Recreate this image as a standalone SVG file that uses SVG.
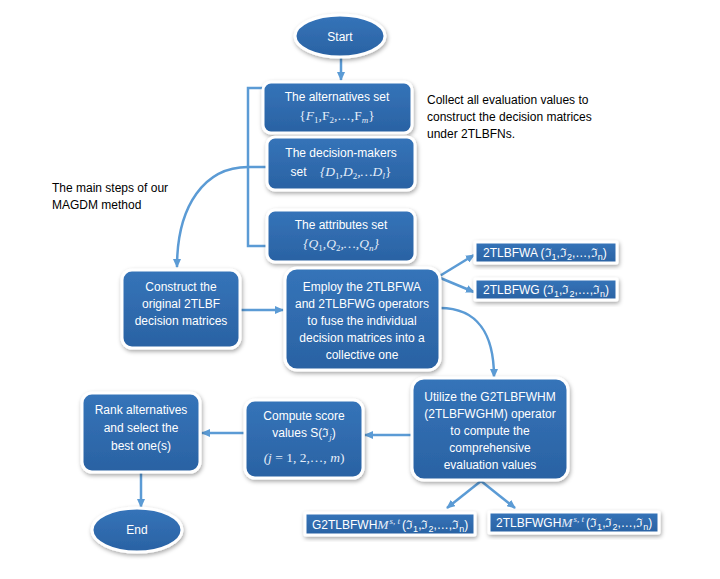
<svg xmlns="http://www.w3.org/2000/svg" width="720" height="579" viewBox="0 0 720 579">
<defs>
<linearGradient id="g" x1="0" y1="0" x2="0" y2="1">
<stop offset="0" stop-color="#3574b9"/>
<stop offset="1" stop-color="#2a62a3"/>
</linearGradient>
<filter id="sh" x="-15%" y="-15%" width="135%" height="145%">
<feDropShadow dx="1" dy="2" stdDeviation="2" flood-color="#000" flood-opacity="0.35"/>
</filter>
<marker id="ar" markerWidth="9" markerHeight="8" refX="8" refY="4" orient="auto" markerUnits="userSpaceOnUse">
<path d="M0,0 L9,4 L0,8 z" fill="#5b9bd5"/>
</marker>
</defs>
<style>
.box{fill:url(#g);stroke:#fff;stroke-width:3;filter:url(#sh)}
.t{font-family:"Liberation Sans",Arial,sans-serif;font-size:12px;fill:#fff;text-anchor:middle}
.s{font-family:"Liberation Sans",Arial,sans-serif;font-size:12px;fill:#fff}
.m{font-family:"Liberation Serif","DejaVu Serif",serif;font-size:13.5px;fill:#e4edf9}
.i{font-style:italic}
.sub{font-size:9px}
.c{fill:none;stroke:#5b9bd5;stroke-width:2.5}
.a{marker-end:url(#ar)}
.n{font-family:"Liberation Sans",Arial,sans-serif;font-size:12px;fill:#000}
</style>
<rect width="720" height="579" fill="#fff"/>

<g id="connectors">
<path class="c a" d="M341,58 L341,80"/>
<path class="c" d="M263,88 L248,88 L248,246 L267,246 M248,167 L267,167"/>
<path class="c a" d="M248,167 C205,167 177,205 177,267"/>
<path class="c a" d="M241,310 L283,310"/>
<path class="c a" d="M438,277 L474,255"/>
<path class="c a" d="M438,277 L474,292"/>
<path class="c a" d="M440,308 C478,308 494,335 494,377"/>
<path class="c a" d="M411,435 L365,435"/>
<path class="c a" d="M244,433 L202,433"/>
<path class="c a" d="M141,473 L141,507"/>
<path class="c a" d="M481,481 L447,508"/>
<path class="c a" d="M481,481 L515,508"/>
</g>

<g id="start">
<ellipse class="box" cx="340" cy="36" rx="45" ry="21"/>
<text class="t" x="340" y="41">Start</text>
</g>

<g id="alternatives">
<rect class="box" x="263" y="82" width="149" height="51" rx="8"/>
<text class="t" x="337" y="101">The alternatives set</text>
<text class="m" x="337" y="120" text-anchor="middle">{<tspan class="i">F</tspan><tspan class="sub" dy="3">1</tspan><tspan dy="-3">,F</tspan><tspan class="sub" dy="3">2</tspan><tspan dy="-3">,…,F</tspan><tspan class="sub i" dy="3">m</tspan><tspan dy="-3">}</tspan></text>
</g>

<g id="decision-makers">
<rect class="box" x="267" y="137" width="148" height="53" rx="8"/>
<text class="t" x="341" y="157">The decision-makers</text>
<text class="t" x="341" y="176">set <tspan class="m i" dx="10">{D</tspan><tspan class="m sub" dy="3">1</tspan><tspan class="m i" dy="-3">,D</tspan><tspan class="m sub" dy="3">2</tspan><tspan class="m i" dy="-3">,…D</tspan><tspan class="m sub i" dy="3">l</tspan><tspan class="m" dy="-3">}</tspan></text>
</g>

<g id="attributes">
<rect class="box" x="267" y="210" width="148" height="52" rx="8"/>
<text class="t" x="341" y="229">The attributes set</text>
<text class="m i" x="341" y="248" text-anchor="middle">{Q<tspan class="sub" dy="3" font-style="normal">1</tspan><tspan dy="-3">,Q</tspan><tspan class="sub" dy="3" font-style="normal">2</tspan><tspan dy="-3">,…,Q</tspan><tspan class="sub" dy="3">n</tspan><tspan dy="-3">}</tspan></text>
</g>

<g id="construct">
<rect class="box" x="122" y="270" width="118" height="78" rx="10"/>
<text class="t" x="181" y="291">Construct the</text>
<text class="t" x="181" y="308">original 2TLBF</text>
<text class="t" x="181" y="325">decision matrices</text>
</g>

<g id="employ">
<rect class="box" x="285" y="268" width="155" height="102" rx="12"/>
<text class="t" x="362" y="291">Employ the 2TLBFWA</text>
<text class="t" x="362" y="308">and 2TLBFWG operators</text>
<text class="t" x="362" y="325">to fuse the individual</text>
<text class="t" x="362" y="342">decision matrices into a</text>
<text class="t" x="362" y="359">collective one</text>
</g>

<g id="wa">
<rect class="box" x="475" y="242" width="142" height="21" rx="1"/>
<text class="s" x="483" y="257">2TLBFWA (ℑ<tspan class="sub" dy="3">1</tspan><tspan dy="-3">,ℑ</tspan><tspan class="sub" dy="3">2</tspan><tspan dy="-3">,…,ℑ</tspan><tspan class="sub" dy="3">n</tspan><tspan dy="-3">)</tspan></text>
</g>

<g id="wg">
<rect class="box" x="475" y="279" width="142" height="21" rx="1"/>
<text class="s" x="483" y="294">2TLBFWG (ℑ<tspan class="sub" dy="3">1</tspan><tspan dy="-3">,ℑ</tspan><tspan class="sub" dy="3">2</tspan><tspan dy="-3">,…,ℑ</tspan><tspan class="sub" dy="3">n</tspan><tspan dy="-3">)</tspan></text>
</g>

<g id="utilize">
<rect class="box" x="412" y="378" width="156" height="102" rx="12"/>
<text class="t" x="490" y="401">Utilize the G2TLBFWHM</text>
<text class="t" x="490" y="418">(2TLBFWGHM) operator</text>
<text class="t" x="490" y="435">to compute the</text>
<text class="t" x="490" y="452">comprehensive</text>
<text class="t" x="490" y="469">evaluation values</text>
</g>

<g id="compute">
<rect class="box" x="245" y="400" width="118" height="78" rx="10"/>
<text class="t" x="304" y="420">Compute score</text>
<text class="t" x="304" y="437">values S(ℑ<tspan class="m i sub" dy="3">j</tspan><tspan dy="-3">)</tspan></text>
<text class="m" x="304" y="462" text-anchor="middle"><tspan class="i">(j</tspan> = 1, 2,…, <tspan class="i">m</tspan>)</text>
</g>

<g id="rank">
<rect class="box" x="82" y="393" width="118" height="79" rx="10"/>
<text class="t" x="141" y="414">Rank alternatives</text>
<text class="t" x="141" y="432">and select the</text>
<text class="t" x="141" y="450">best one(s)</text>
</g>

<g id="end">
<ellipse class="box" cx="137" cy="530" rx="45" ry="22"/>
<text class="t" x="137" y="534">End</text>
</g>

<g id="g2tlbfwhm">
<rect class="box" x="305" y="513" width="170" height="22" rx="1"/>
<text class="s" x="312" y="529">G2TLBFWH<tspan class="m i">M</tspan><tspan class="m i sub" dx="1" dy="-5">s, t</tspan><tspan dx="2" dy="5">(ℑ</tspan><tspan class="sub" dy="3">1</tspan><tspan dy="-3">,ℑ</tspan><tspan class="sub" dy="3">2</tspan><tspan dy="-3">,…,ℑ</tspan><tspan class="sub" dy="3">n</tspan><tspan dy="-3">)</tspan></text>
</g>

<g id="2tlbfwghm">
<rect class="box" x="489" y="512" width="170" height="21" rx="1"/>
<text class="s" x="496" y="527">2TLBFWGH<tspan class="m i">M</tspan><tspan class="m i sub" dx="1" dy="-5">s, t</tspan><tspan dx="2" dy="5">(ℑ</tspan><tspan class="sub" dy="3">1</tspan><tspan dy="-3">,ℑ</tspan><tspan class="sub" dy="3">2</tspan><tspan dy="-3">,…,ℑ</tspan><tspan class="sub" dy="3">n</tspan><tspan dy="-3">)</tspan></text>
</g>

<g id="notes">
<text class="n" x="427" y="104">Collect all evaluation values to</text>
<text class="n" x="427" y="121">construct the decision matrices</text>
<text class="n" x="427" y="138">under 2TLBFNs.</text>
<text class="n" x="52" y="192">The main steps of our</text>
<text class="n" x="52" y="209">MAGDM method</text>
</g>
</svg>
